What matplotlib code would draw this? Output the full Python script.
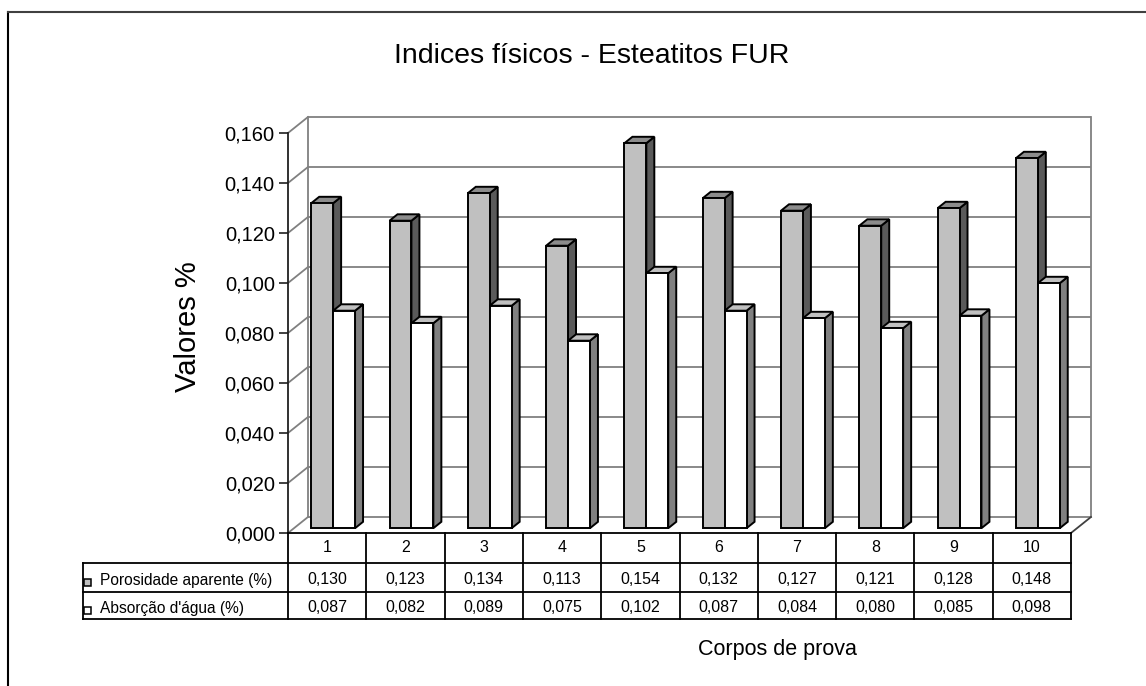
import matplotlib
matplotlib.use("Agg")
import matplotlib.pyplot as plt
from matplotlib.patches import Polygon, Rectangle
from matplotlib.lines import Line2D

plt.rcParams['font.family'] = ['Liberation Sans', 'DejaVu Sans']

# ---- data -------------------------------------------------------------
title = "Indices físicos - Esteatitos FUR"
x_title = "Corpos de prova"
y_title = "Valores %"
categories = ["1", "2", "3", "4", "5", "6", "7", "8", "9", "10"]
series_names = ["Porosidade aparente (%)", "Absorção d'água (%)"]
porosidade = [0.130, 0.123, 0.134, 0.113, 0.154, 0.132, 0.127, 0.121, 0.128, 0.148]
absorcao = [0.087, 0.082, 0.089, 0.075, 0.102, 0.087, 0.084, 0.080, 0.085, 0.098]
y_ticks = [0.000, 0.020, 0.040, 0.060, 0.080, 0.100, 0.120, 0.140, 0.160]


def fmt(v):
    return f"{v:.3f}".replace(".", ",")


# ---- styling ----------------------------------------------------------
W, H = 1146, 686
fig = plt.figure(figsize=(W / 100, H / 100), dpi=100)
fig.patch.set_facecolor("white")

# front plane of the 3-D box
ax = fig.add_axes([288 / W, (H - 533) / H, 783 / W, 400 / H])
n = len(categories)
ymax = y_ticks[-1]
ax.set_xlim(0, n)
ax.set_ylim(0, ymax)
ax.set_facecolor("none")

# depth of the box, in data units
DX = 0.255
DY = 0.0064

wall_col = "#808080"
wall_lw = 1.3
# back wall gridlines and side-wall diagonals
for t in y_ticks:
    ax.plot([DX, n + DX], [t + DY, t + DY], color=wall_col, lw=wall_lw,
            clip_on=False, zorder=1, solid_capstyle="butt")
    ax.plot([0, DX], [t, t + DY], color=wall_col, lw=wall_lw,
            clip_on=False, zorder=1)
ax.plot([DX, DX], [DY, ymax + DY], color=wall_col, lw=wall_lw, clip_on=False, zorder=1)
ax.plot([n + DX, n + DX], [DY, ymax + DY], color=wall_col, lw=wall_lw, clip_on=False, zorder=1)
ax.plot([n, n + DX], [0, DY], color="#404040", lw=wall_lw, clip_on=False, zorder=1)

# bars with front, side and top faces
gap = 0.22
bw = 0.28
z0, z1 = 0.3, 0.7
styles = [
    dict(face="#C0C0C0", top="#8C8C8C", side="#5A5A5A"),
    dict(face="#FFFFFF", top="#C0C0C0", side="#808080"),
]
edge_lw = 1.4
for i in range(n):
    for s, vals in enumerate([porosidade, absorcao]):
        v = vals[i]
        st = styles[s]
        x0 = i + gap + s * bw + z0 * DX
        x1 = x0 + bw
        yb = z0 * DY
        ddx = (z1 - z0) * DX
        ddy = (z1 - z0) * DY
        front = Rectangle((x0, yb), bw, v, facecolor=st["face"], edgecolor="black",
                          lw=edge_lw, zorder=3, clip_on=False)
        side = Polygon([(x1, yb), (x1 + ddx, yb + ddy), (x1 + ddx, v + yb + ddy), (x1, v + yb)],
                       closed=True, facecolor=st["side"], edgecolor="black", lw=edge_lw,
                       zorder=3, clip_on=False)
        top = Polygon([(x0, v + yb), (x1, v + yb), (x1 + ddx, v + yb + ddy), (x0 + ddx, v + yb + ddy)],
                      closed=True, facecolor=st["top"], edgecolor="black", lw=edge_lw,
                      zorder=3, clip_on=False)
        ax.add_patch(side)
        ax.add_patch(top)
        ax.add_patch(front)

# axes
for sp in ["top", "right"]:
    ax.spines[sp].set_visible(False)
ax.spines["left"].set_color("#202020")
ax.spines["left"].set_linewidth(1.3)
ax.spines["bottom"].set_color("black")
ax.spines["bottom"].set_linewidth(1.3)
ax.spines["left"].set_zorder(4)
ax.set_xticks([])
ax.set_yticks(y_ticks)
ax.set_yticklabels([fmt(t) for t in y_ticks])
ax.tick_params(axis="y", direction="out", length=6.5, width=1.2, color="#202020",
               labelsize=14.5, pad=3)

# ---- data table -------------------------------------------------------
tr = ax.get_xaxis_transform()
px = 1 / 400.0                      # one pixel in axes-fraction units
rows = [0, -30 * px, -59 * px, -86 * px]
leg_left = -2.62
tl = dict(color="black", lw=1.3, transform=tr, clip_on=False, zorder=5)
for r in rows[1:]:
    ax.add_line(Line2D([leg_left, n], [r, r], **tl))
for k in range(n + 1):
    ax.add_line(Line2D([k, k], [0, rows[-1]], **tl))
ax.add_line(Line2D([leg_left, leg_left], [rows[1], rows[-1]], **tl))

for i, c in enumerate(categories):
    ax.text(i + 0.5, -19 * px, c, ha="center", va="baseline", fontsize=11.5, transform=tr)
    ax.text(i + 0.5, -51 * px, fmt(porosidade[i]), ha="center", va="baseline",
            fontsize=11.5, transform=tr)
    ax.text(i + 0.5, -79 * px, fmt(absorcao[i]), ha="center", va="baseline",
            fontsize=11.5, transform=tr)

# legend keys inside the table
key_w = 7 / 78.3
for s, (name, yb) in enumerate(zip(series_names, [-53 * px, -81 * px])):
    ax.add_patch(Rectangle((-2.60, yb), key_w, 7 * px, facecolor=styles[s]["face"],
                           edgecolor="black", lw=1.1, transform=tr, clip_on=False, zorder=5))
    ax.text(-2.40, yb + 0.5 * px, name, ha="left", va="baseline", fontsize=11.2, transform=tr)

# ---- titles -----------------------------------------------------------
fig.text(592 / W, 1 - 63 / H, title, ha="center", va="baseline", fontsize=20.5)
fig.text(777 / W, 1 - 650 / H, x_title, ha="center", va="center", fontsize=15.5)
fig.text(188 / W, 1 - 327 / H, y_title, ha="center", va="center", rotation=90, fontsize=21)

# chart frame
fig.add_artist(Line2D([8 / W, 8 / W], [0, 1 - 12 / H], color="black", lw=1.5))
fig.add_artist(Line2D([8 / W, 1], [1 - 12 / H, 1 - 12 / H], color="#404040", lw=1.5))

fig.savefig("out.png", dpi=100)
